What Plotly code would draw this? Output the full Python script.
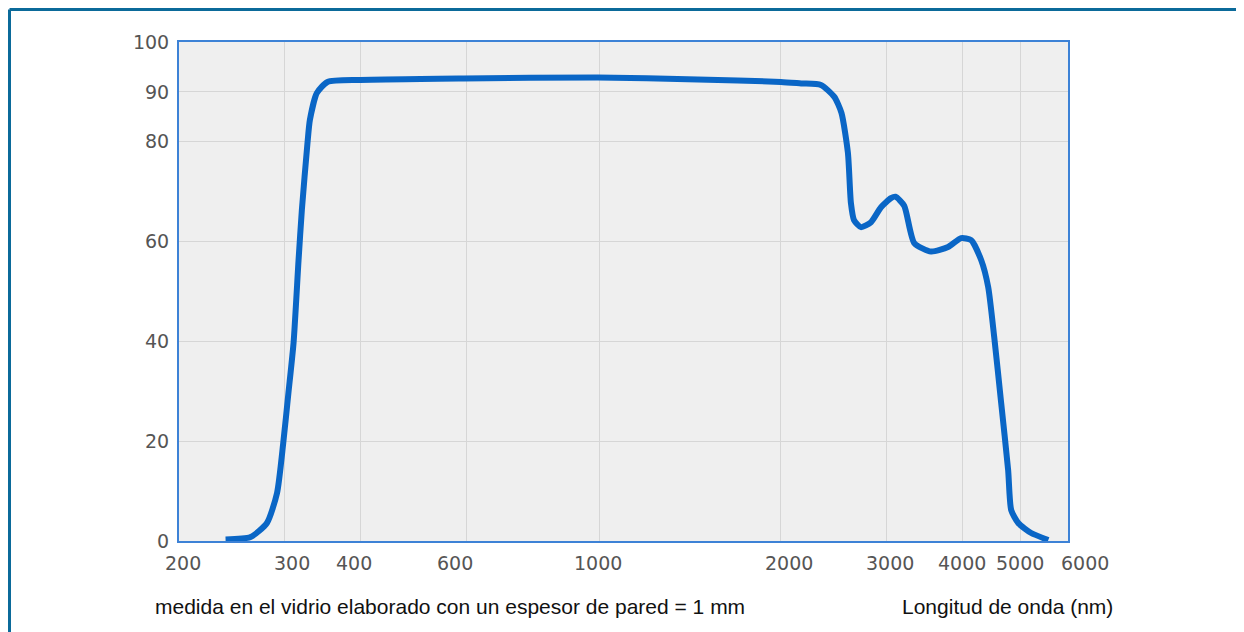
import math
import plotly.graph_objects as go

# Wavelength (nm) and transmittance (%)
wavelength = [239, 263, 280, 291, 298, 304, 310, 316, 320, 327, 330, 339, 353, 400,
              594, 992, 1456, 2000, 2162, 2331, 2454, 2522, 2585, 2615, 2646,
              2717, 2824, 2934, 3048, 3100, 3206, 3332, 3554, 3792, 3986, 4142, 4304,
              4421, 4524, 4646, 4772, 4828, 4960, 5212, 5565]
transmittance = [0.3, 0.8, 3.6, 9.6, 19.6, 29.7, 39.7, 56.3, 66.3, 79.8, 84.4, 89.8, 92.0, 92.4,
                 92.7, 92.9, 92.5, 92.0, 91.7, 91.4, 89.0, 85.8, 77.8, 67.7, 64.3,
                 62.9, 63.9, 66.9, 68.7, 69.0, 67.2, 59.7, 58.0, 58.9, 60.7, 60.3, 56.3,
                 50.9, 40.9, 27.7, 14.2, 6.2, 3.6, 1.6, 0.2]

x_ticks = [200, 300, 400, 600, 1000, 2000, 3000, 4000, 5000, 6000]
y_ticks = [0, 20, 40, 60, 80, 90, 100]

caption_left = "medida en el vidrio elaborado con un espesor de pared = 1 mm"
caption_right = "Longitud de onda (nm)"

OFF = 8  # page body margin of the html page
W, H = 1244 - OFF, 632 - OFF
# plot-area edges in screen pixels
L, R, T, B = 179, 1068, 42, 541
# screen x-centres of the printed x tick labels (they sit slightly off the log grid)
x_label_px = [183, 292, 354, 455, 598, 789, 890, 962, 1020, 1085]

fig = go.Figure()
fig.add_trace(go.Scatter(
    x=wavelength, y=transmittance, mode="lines",
    line=dict(color="#0a66c6", width=6, shape="spline", smoothing=0.6),
    hoverinfo="x+y", showlegend=False,
))

axis_font = dict(family="DejaVu Sans, sans-serif", size=19, color="#555555")

fig.update_layout(
    width=W, height=H,
    margin=dict(l=L - OFF, r=W - (R - OFF), t=T - OFF, b=H - (B - OFF), pad=0),
    paper_bgcolor="white",
    plot_bgcolor="#efefef",
    xaxis=dict(
        type="log", range=[math.log10(200), math.log10(6000)],
        tickvals=x_ticks, showticklabels=False,
        showgrid=True, gridcolor="#d6d6d6", gridwidth=1,
        showline=True, linecolor="#3d82d6", linewidth=2, mirror=True,
        ticks="", zeroline=False,
    ),
    yaxis=dict(
        range=[0, 100], tickvals=y_ticks, ticktext=[str(v) for v in y_ticks],
        showgrid=True, gridcolor="#d6d6d6", gridwidth=1,
        showline=True, linecolor="#3d82d6", linewidth=2, mirror=True,
        ticks="", tickfont=axis_font, zeroline=False, ticklabelstandoff=4,
    ),
    font=dict(family="Liberation Sans, Arial, sans-serif"),
)

pw, ph = R - L, B - T
def px(xp):
    return (xp - L) / pw
def py(yp):
    return (B - yp) / ph

for v, xp in zip(x_ticks, x_label_px):
    fig.add_annotation(text=str(v), xref="paper", yref="paper",
                       x=px(xp), y=py(563), xanchor="center", yanchor="middle",
                       showarrow=False, font=axis_font)

# outer frame (left, top, right)
frame_color = "#0b6a9a"
for x0, y0, x1, y1 in [(9.5, 9.5, 9.5, 640), (9.5, 9.5, 1241.5, 9.5), (1241.5, 9.5, 1241.5, 640)]:
    fig.add_shape(type="line", xref="paper", yref="paper",
                  x0=px(x0), y0=py(y0), x1=px(x1), y1=py(y1),
                  line=dict(color=frame_color, width=3))

cap_font = dict(family="Liberation Sans, Arial", size=21, color="#111111")
fig.add_annotation(text=caption_left, xref="paper", yref="paper",
                   x=px(153), y=py(606), xanchor="left", yanchor="middle",
                   showarrow=False, font=cap_font)
fig.add_annotation(text=caption_right, xref="paper", yref="paper",
                   x=px(1115), y=py(606), xanchor="right", yanchor="middle",
                   showarrow=False, font=cap_font)

fig.write_html("out.html")
